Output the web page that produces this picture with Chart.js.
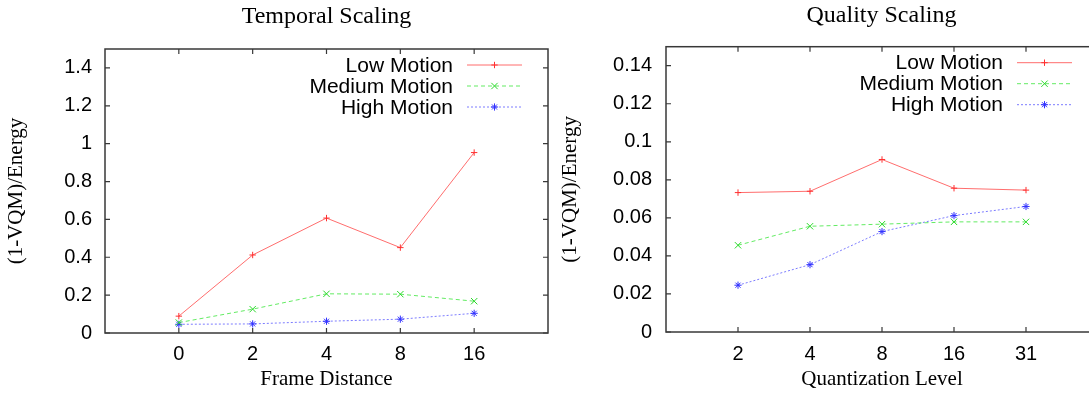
<!DOCTYPE html>
<html>
<head>
<meta charset="utf-8">
<title>Temporal / Quality Scaling</title>
<script src="https://cdn.jsdelivr.net/npm/chart.js@4/dist/chart.umd.min.js"></script>
<style>
  html, body { margin: 0; padding: 0; background: #fff; overflow: hidden; }
  #wrap { position: relative; width: 1089px; height: 402px; overflow: hidden; }
  #wrap canvas { position: absolute; top: 0; }
</style>
</head>
<body>
<div id="wrap">
  <canvas id="temporal" width="653" height="402" style="left:0"></canvas>
  <canvas id="quality" width="653" height="402" style="left:555px"></canvas>
</div>
<script>
'use strict';

// x categories
const frameDistance = ['0', '2', '4', '8', '16'];
const quantLevel = ['2', '4', '8', '16', '31'];
const motionNames = ['Low Motion', 'Medium Motion', 'High Motion'];

// (1-VQM)/Energy vs frame distance
const temporalLow    = [0.089, 0.412, 0.607, 0.451, 0.953];
const temporalMedium = [0.055, 0.126, 0.207, 0.205, 0.168];
const temporalHigh   = [0.046, 0.048, 0.062, 0.073, 0.104];

// (1-VQM)/Energy vs quantization level
const qualityLow    = [0.0733, 0.0740, 0.0907, 0.0756, 0.0746];
const qualityMedium = [0.0456, 0.0556, 0.0567, 0.0579, 0.0579];
const qualityHigh   = [0.0246, 0.0354, 0.0528, 0.0612, 0.0660];

const SANS = "'Liberation Sans', Arial, Helvetica, sans-serif";
const SERIF = "'Liberation Serif', 'Times New Roman', serif";

// gnuplot style line types: + solid red, x dashed green, * dotted blue
const lineColors  = ['rgba(255, 60, 60, 0.75)', 'rgba(60, 230, 60, 0.8)', 'rgba(80, 80, 255, 0.75)'];
const pointColors = ['#ff3030', '#2ad82a', '#3030ff'];
const lineDashes  = [[], [4, 3], [2, 2]];
const pointStyles = ['cross', 'crossRot', 'star'];
const pointSizes  = [3.2, 4.5, 3.6];

function toPoints(values){
  return values.map((v, i) => ({x: i, y: v}));
}

function makeDatasets(seriesList){
  return seriesList.map((values, n) => ({
    label: motionNames[n],
    data: toPoints(values),
    borderColor: lineColors[n],
    borderWidth: 1,
    borderDash: lineDashes[n],
    pointStyle: pointStyles[n],
    pointRadius: pointSizes[n],
    pointBorderColor: pointColors[n],
    pointBackgroundColor: pointColors[n],
    pointBorderWidth: 1,
    tension: 0,
    fill: false
  }));
}

// box around the plot with inward ticks on all four sides
const gnuplotFrame = {
  id: 'gnuplotFrame',
  afterDatasetsDraw(chart){
    const {ctx, chartArea: a, scales} = chart;
    ctx.save();
    ctx.setLineDash([]);
    ctx.strokeStyle = '#383838';
    ctx.lineWidth = 1.5;
    ctx.strokeRect(a.left, a.top, a.right - a.left, a.bottom - a.top);
    ctx.lineWidth = 1.2;
    ctx.beginPath();
    scales.x.ticks.forEach(t => {
      if(t.value <= scales.x.min || t.value >= scales.x.max) return;
      const px = scales.x.getPixelForValue(t.value);
      ctx.moveTo(px, a.bottom); ctx.lineTo(px, a.bottom - 5);
      ctx.moveTo(px, a.top);    ctx.lineTo(px, a.top + 5);
    });
    scales.y.ticks.forEach(t => {
      const py = scales.y.getPixelForValue(t.value);
      ctx.moveTo(a.left, py);  ctx.lineTo(a.left + 5, py);
      ctx.moveTo(a.right, py); ctx.lineTo(a.right - 5, py);
    });
    ctx.stroke();
    ctx.restore();
  }
};

// key in the top right corner: right aligned text, sample line with marker after it
const keyBox = {
  id: 'keyBox',
  afterDraw(chart){
    const {ctx, chartArea: a} = chart;
    ctx.save();
    ctx.font = '21px ' + SANS;
    ctx.textAlign = 'right';
    ctx.textBaseline = 'middle';
    chart.data.datasets.forEach((ds, n) => {
      const y = a.top + 16 + n * 21;
      ctx.fillStyle = '#000';
      ctx.fillText(ds.label, a.right - 95, y + 1);
      ctx.strokeStyle = ds.borderColor;
      ctx.lineWidth = 1;
      ctx.setLineDash(ds.borderDash);
      ctx.beginPath();
      ctx.moveTo(a.right - 81, y);
      ctx.lineTo(a.right - 26, y);
      ctx.stroke();
      ctx.setLineDash([]);
      ctx.strokeStyle = ds.pointBorderColor;
      ctx.fillStyle = ds.pointBackgroundColor;
      Chart.helpers.drawPoint(ctx, {
        pointStyle: ds.pointStyle, rotation: 0, radius: ds.pointRadius, borderWidth: 1
      }, a.right - 53.5, y);
    });
    ctx.restore();
  }
};

function makeChart(id, opts){
  return new Chart(document.getElementById(id), {
    type: 'line',
    data: {datasets: makeDatasets(opts.series)},
    options: {
      responsive: false,
      animation: false,
      events: [],
      layout: {padding: 0},
      plugins: {
        legend: {display: false},
        tooltip: {enabled: false},
        title: {
          display: true,
          text: opts.title,
          color: '#000',
          font: {family: SERIF, size: 24, weight: 'normal'},
          padding: opts.titlePad
        }
      },
      scales: {
        x: {
          type: 'linear',
          min: -1,
          max: opts.labels.length,
          grid: {display: false, drawTicks: false, tickLength: 0},
          border: {display: false},
          ticks: {
            stepSize: 1,
            autoSkip: false,
            maxRotation: 0,
            padding: opts.xTickPad,
            color: '#000',
            font: {family: SANS, size: 20},
            callback: v => opts.labels[v] ?? ''
          },
          title: {
            display: true,
            text: opts.xTitle,
            color: '#000',
            font: {family: SERIF, size: 21},
            padding: {top: 0, bottom: 10}
          },
          afterFit: s => { s.height = 402 - opts.bottom; }
        },
        y: {
          min: 0,
          max: opts.yMax,
          grid: {display: false, drawTicks: false, tickLength: 0},
          border: {display: false},
          ticks: {
            stepSize: opts.yStep,
            includeBounds: false,
            padding: opts.yTickPad,
            color: '#000',
            font: {family: SANS, size: 20},
            callback: v => String(+v.toFixed(3))
          },
          title: {
            display: true,
            text: '(1-VQM)/Energy',
            color: '#000',
            font: {family: SERIF, size: 21},
            padding: {top: opts.yTitlePad, bottom: 0}
          },
          afterFit: s => { s.width = opts.left; }
        },
        // empty right side so the title centres over the plot
        yMirror: {
          position: 'right',
          display: true,
          grid: {display: false, drawTicks: false},
          border: {display: false},
          ticks: {display: false},
          afterFit: s => { s.width = opts.rightGap; }
        }
      }
    },
    plugins: [gnuplotFrame, keyBox]
  });
}

makeChart('temporal', {
  title: 'Temporal Scaling',
  xTitle: 'Frame Distance',
  labels: frameDistance,
  series: [temporalLow, temporalMedium, temporalHigh],
  yMax: 1.5,
  yStep: 0.2,
  left: 105,
  rightGap: 105,
  bottom: 333,
  titlePad: {top: 2.3, bottom: 17.9},
  xTickPad: 9,
  yTickPad: 13,
  yTitlePad: 4
});

makeChart('quality', {
  title: 'Quality Scaling',
  xTitle: 'Quantization Level',
  labels: quantLevel,
  series: [qualityLow, qualityMedium, qualityHigh],
  yMax: 0.15,
  yStep: 0.02,
  left: 111,
  rightGap: 110,
  bottom: 332,
  titlePad: {top: 1.3, bottom: 16.6},
  xTickPad: 10,
  yTickPad: 14,
  yTitlePad: 2.5
});
</script>
</body>
</html>
